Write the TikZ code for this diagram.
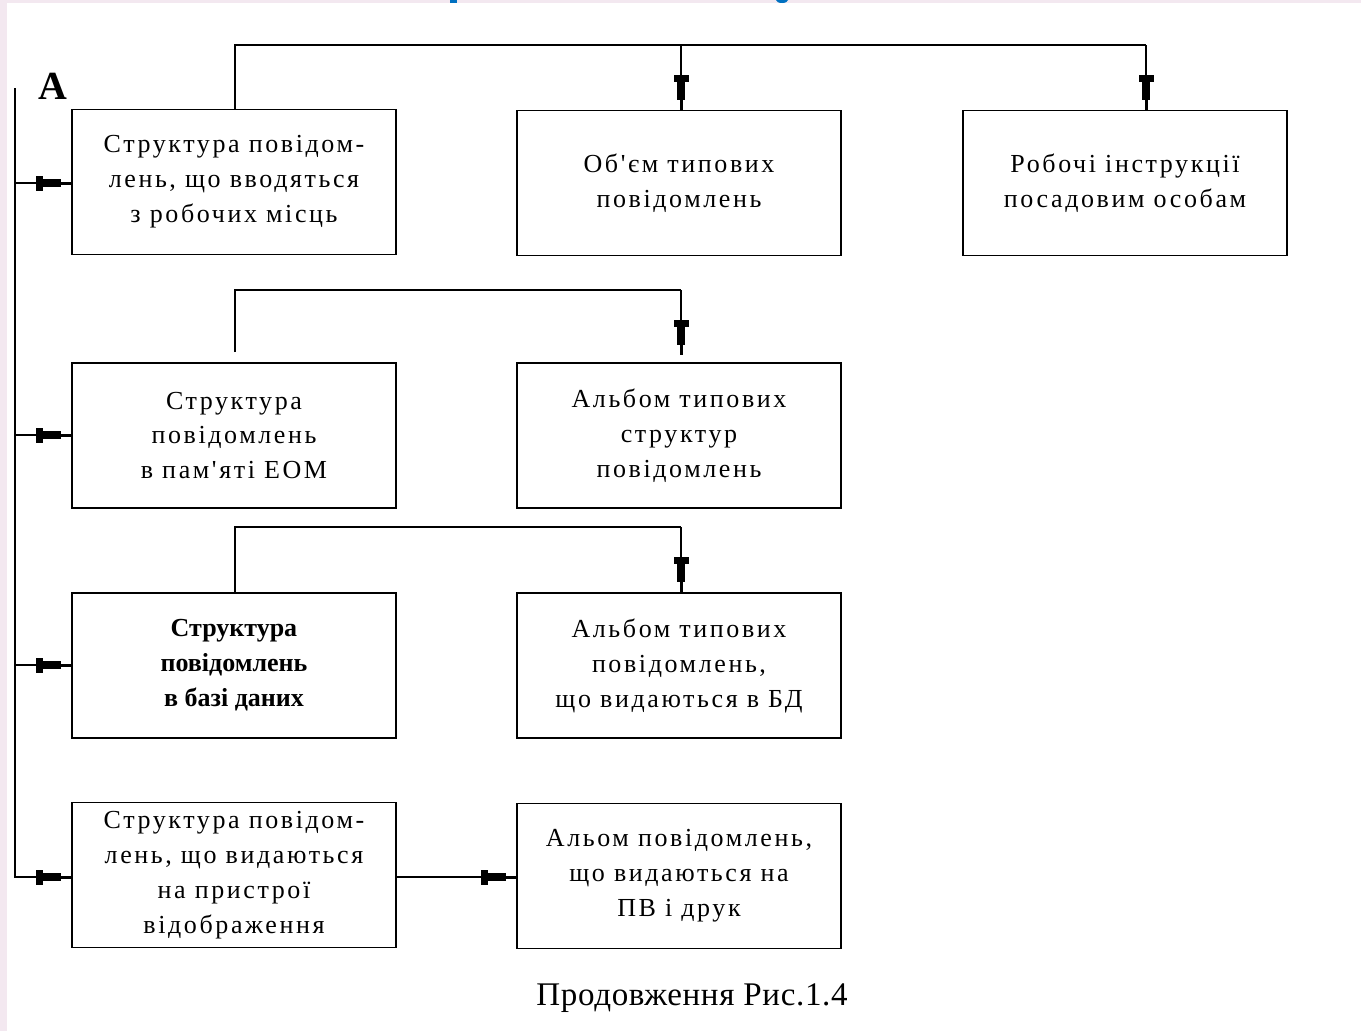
\documentclass[tikz,border=0pt]{standalone}
\usepackage{fontspec}
\setmainfont{Liberation Serif}
\newfontfamily\boxfont[LetterSpace=10]{Liberation Serif}
\newfontfamily\capfont[LetterSpace=2]{Liberation Serif}
\usetikzlibrary{arrows.meta}

\definecolor{pagepink}{RGB}{243,232,240}
\definecolor{titleblue}{RGB}{0,112,192}

\begin{document}
\begin{tikzpicture}[x=0.02cm,y=-0.02cm,
  card/.style={draw, line width=1.1pt, minimum width=6.48cm, minimum height=2.9cm,
    inner sep=0pt, align=center, font=\boxfont\fontsize{14.8pt}{19.9pt}\selectfont},
  boldcard/.style={card, font=\bfseries\fontsize{14.8pt}{19.9pt}\selectfont},
  wire/.style={line width=1.1pt},
  feed/.style={wire, -{Rectangle[length=0.14cm,width=0.3cm,sep=0pt]
      Rectangle[length=0.36cm,width=0.16cm,sep=0pt]
      Rectangle[length=0.2cm,width=0.06cm,sep=0pt]}},
]
% page and frame
\useasboundingbox (0,0) rectangle (1361,1031);
\fill[white] (0,0) rectangle (1361,1031);
\fill[pagepink] (0,0) rectangle (7,1031);
\fill[pagepink] (0,0) rectangle (1361,3);
\fill[titleblue] (450,0) rectangle (457,3);
\fill[titleblue] (782,0) ellipse (6 and 3);

% boxes
\node[card] (b1) at (234,182) {Структура повідом-\\лень, що вводяться\\з робочих місць};
\node[card] (b2) at (679,183) {Об'єм типових\\повідомлень};
\node[card] (b3) at (1125,183) {Робочі інструкції\\посадовим особам};
\node[card] (b4) at (234,435.5) {Структура\\повідомлень\\в пам'яті ЕОМ};
\node[card] (b5) at (679,435.5) {Альбом типових\\структур\\повідомлень};
\node[boldcard] (b6) at (234,665.5) {Структура\\повідомлень\\в базі даних};
\node[card] (b7) at (679,665.5) {Альбом типових\\повідомлень,\\що видаються в БД};
\node[card] (b8) at (234,875) {Структура повідом-\\лень, що видаються\\на пристрої\\відображення};
\node[card] (b9) at (679,876) {Альом повідомлень,\\що видаються на\\ПВ і друк};

% labels
\node (lblA) at (53,86) {\fontsize{22.7pt}{26pt}\selectfont\bfseries А};
\node (cap) at (692,998) {\capfont\fontsize{18.8pt}{22pt}\selectfont Продовження Рис.1.4};

% top distribution line
\coordinate (t1) at (235,45);
\coordinate (t2) at (681,45);
\coordinate (t3) at (1146,45);
\draw[wire] (b1.north -| t1) -- (t1) -- (t3);
\draw[feed] (t2) -- (t2 |- b2.north);
\draw[feed] (t3) -- (t3 |- b3.north);

% second row
\coordinate (s0) at (235,352);
\coordinate (s1) at (235,290);
\coordinate (s2) at (681,290);
\coordinate (s3) at (681,355);
\draw[wire] (s0) -- (s1) -- (s2);
\draw[feed] (s2) -- (s3);

% third row
\coordinate (u1) at (235,527);
\coordinate (u2) at (681,527);
\draw[wire] (b6.north -| u1) -- (u1) -- (u2);
\draw[feed] (u2) -- (u2 |- b7.north);

% fourth row
\draw[feed] (b8.east |- 0,877) -- (b9.west |- 0,877);

% left bus
\coordinate (bus) at (15,88);
\draw[feed] (bus) |- (b8.west |- 0,877);
\draw[feed] (bus |- 0,183) -- (b1.west |- 0,183);
\draw[feed] (bus |- 0,435) -- (b4.west |- 0,435);
\draw[feed] (bus |- 0,665) -- (b6.west |- 0,665);
\end{tikzpicture}
\end{document}
